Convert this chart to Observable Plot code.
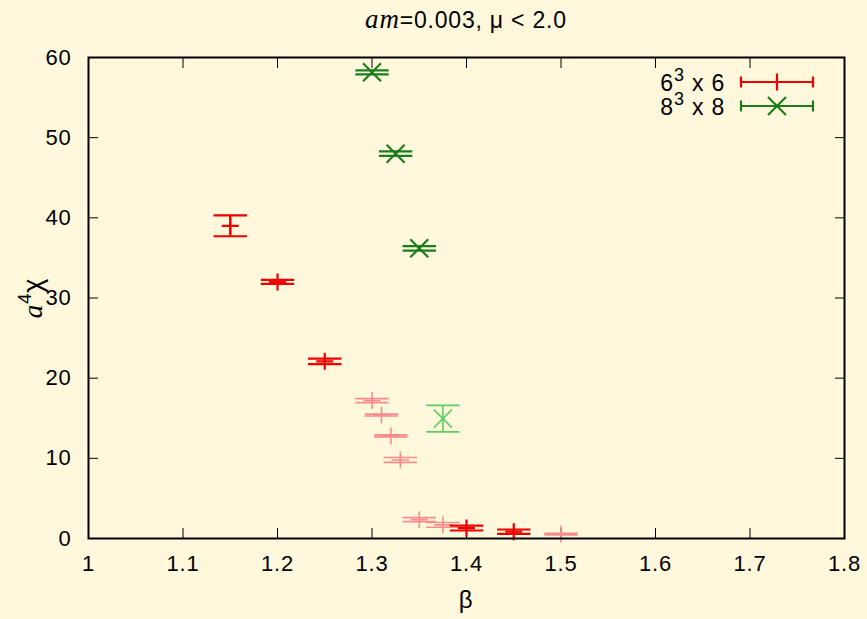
<!DOCTYPE html>
<html><head><meta charset="utf-8">
<script src="https://cdn.jsdelivr.net/npm/d3@7"></script>
<script src="https://cdn.jsdelivr.net/npm/@observablehq/plot@0.6"></script>
<style>
html,body{margin:0;padding:0;background:#fff8dc;overflow:hidden;}
svg text{font-family:"Liberation Sans",Arial,sans-serif;letter-spacing:0.8px;}
</style></head><body><div id="chart"></div>
<script>
// ---- data ----
const xTicks = [1, 1.1, 1.2, 1.3, 1.4, 1.5, 1.6, 1.7, 1.8];
const yTicks = [0, 10, 20, 30, 40, 50, 60];
const legendLabels = ["6", "8"]; // 6^3 x 6, 8^3 x 8

// 6^3 x 6 (main, dark red)
const beta6 = [1.15, 1.2, 1.25, 1.4, 1.45];
const chi6 = [39.0, 32.0, 22.1, 1.3, 0.85];
const err6 = [1.3, 0.25, 0.35, 0.3, 0.27];
// 6^3 x 6 (light red, additional runs)
const beta6b = [1.3, 1.31, 1.32, 1.33, 1.35, 1.375, 1.5];
const chi6b = [17.2, 15.4, 12.8, 9.8, 2.35, 1.7, 0.55];
const err6b = [0.25, 0.12, 0.12, 0.3, 0.25, 0.3, 0.1];
// 8^3 x 8 (main, dark green)
const beta8 = [1.3, 1.325, 1.35];
const chi8 = [58.15, 48.0, 36.2];
const err8 = [0.25, 0.28, 0.28];
// 8^3 x 8 (light green)
const beta8b = [1.375];
const chi8b = [14.95];
const err8b = [1.65];

const cRed = "#ee0000", cRedL = "#fa8c8c", cGreen = "#1b7d1b", cGreenL = "#5fcc5f";

const rows = (b, c, e) => b.map((x, i) => ({beta: x, chi: c[i], err: e[i]}));

const hline = w => ({draw(ctx) { ctx.moveTo(-w, 0); ctx.lineTo(w, 0); }});
const plusSym = w => ({draw(ctx) { ctx.moveTo(-w, 0); ctx.lineTo(w, 0); ctx.moveTo(0, -w); ctx.lineTo(0, w); }});
const timesSym = w => ({draw(ctx) { ctx.moveTo(-w, -w); ctx.lineTo(w, w); ctx.moveTo(-w, w); ctx.lineTo(w, -w); }});

function errSeries(data, color, sw, marker) {
  return [
    Plot.ruleX(data, {x: "beta", y1: d => d.chi - d.err, y2: d => d.chi + d.err, stroke: color, strokeWidth: sw}),
    Plot.dot(data, {x: "beta", y: d => d.chi - d.err, symbol: hline(16.7), fill: "none", stroke: color, strokeWidth: sw, r: 3}),
    Plot.dot(data, {x: "beta", y: d => d.chi + d.err, symbol: hline(16.7), fill: "none", stroke: color, strokeWidth: sw, r: 3}),
    Plot.dot(data, {x: "beta", y: "chi", symbol: marker, fill: "none", stroke: color, strokeWidth: sw, r: 3})
  ];
}

const plot = Plot.plot({
  width: 867, height: 619,
  marginLeft: 88, marginRight: 23, marginTop: 57, marginBottom: 81,
  style: {background: "transparent", fontSize: "22px", fontFamily: "Liberation Sans, Arial, sans-serif", color: "black"},
  x: {domain: [1, 1.8], label: null},
  y: {domain: [0, 60], label: null},
  marks: [
    Plot.axisX({ticks: xTicks, tickSize: 0, tickPadding: 17, tickFormat: d => String(d), label: null}),
    Plot.axisX({ticks: xTicks, anchor: "bottom", tickSize: 10, dy: -10, fill: "none", label: null, tickFormat: d => ""}),
    Plot.axisX({ticks: xTicks, anchor: "top", tickSize: 10, dy: 10, fill: "none", label: null, tickFormat: d => ""}),
    Plot.axisY({ticks: yTicks, tickSize: 0, tickPadding: 17, tickFormat: d => String(d), label: null}),
    Plot.axisY({ticks: yTicks, anchor: "left", tickSize: 10, dx: 10, fill: "none", label: null, tickFormat: d => ""}),
    Plot.axisY({ticks: yTicks, anchor: "right", tickSize: 10, dx: -10, fill: "none", label: null, tickFormat: d => ""}),
    ...errSeries(rows(beta6b, chi6b, err6b), cRedL, 1.6, plusSym(8.5)),
    ...errSeries(rows(beta8b, chi8b, err8b), cGreenL, 1.6, timesSym(9)),
    ...errSeries(rows(beta6, chi6, err6), cRed, 2.2, plusSym(8.5)),
    ...errSeries(rows(beta8, chi8, err8), cGreen, 2.2, timesSym(9)),
    Plot.frame({stroke: "black", strokeWidth: 2})
  ]
});

document.getElementById("chart").appendChild(plot);
const svg = d3.select(plot);

// title
const t = svg.append("text").attr("x", 466).attr("y", 28).attr("text-anchor", "middle").attr("font-size", 23).attr("fill", "black");
t.append("tspan").attr("font-family", "Liberation Serif, Times New Roman, serif").attr("font-style", "italic").attr("font-size", 27).text("am");
t.append("tspan").text("=0.003, μ < 2.0");

// x label
svg.append("text").attr("x", 466).attr("y", 608).attr("text-anchor", "middle").attr("font-size", 24).attr("fill", "black").text("β");

// y label
const yl = svg.append("text").attr("transform", "translate(42,298) rotate(-90)").attr("text-anchor", "middle").attr("font-size", 27).attr("fill", "black");
yl.append("tspan").attr("font-family", "Liberation Serif, Times New Roman, serif").attr("font-style", "italic").text("a");
yl.append("tspan").attr("dy", -11).attr("font-size", 19).text("4");
yl.append("tspan").attr("dy", 11).text("χ");

// legend
const leg = [
  {lab: legendLabels[0], y: 82, color: cRed, sym: "plus"},
  {lab: legendLabels[1], y: 106, color: cGreen, sym: "times"}
];
leg.forEach(L => {
  const tx = svg.append("text").attr("x", 725).attr("y", L.y + 9).attr("text-anchor", "end").attr("font-size", 23).attr("fill", "black");
  tx.append("tspan").text(L.lab);
  tx.append("tspan").attr("dy", -10).attr("font-size", 18).text("3");
  tx.append("tspan").attr("dy", 10).text(" x " + L.lab);
  const g = svg.append("g").attr("stroke", L.color).attr("stroke-width", 2.2).attr("fill", "none");
  g.append("path").attr("d", `M741,${L.y}H813M741,${L.y - 5.5}V${L.y + 5.5}M813,${L.y - 5.5}V${L.y + 5.5}`);
  if (L.sym === "plus") g.append("path").attr("d", `M768.5,${L.y}H785.5M777,${L.y - 8.5}V${L.y + 8.5}`);
  else g.append("path").attr("d", `M768,${L.y - 9}L786,${L.y + 9}M768,${L.y + 9}L786,${L.y - 9}`);
});
</script></body></html>
